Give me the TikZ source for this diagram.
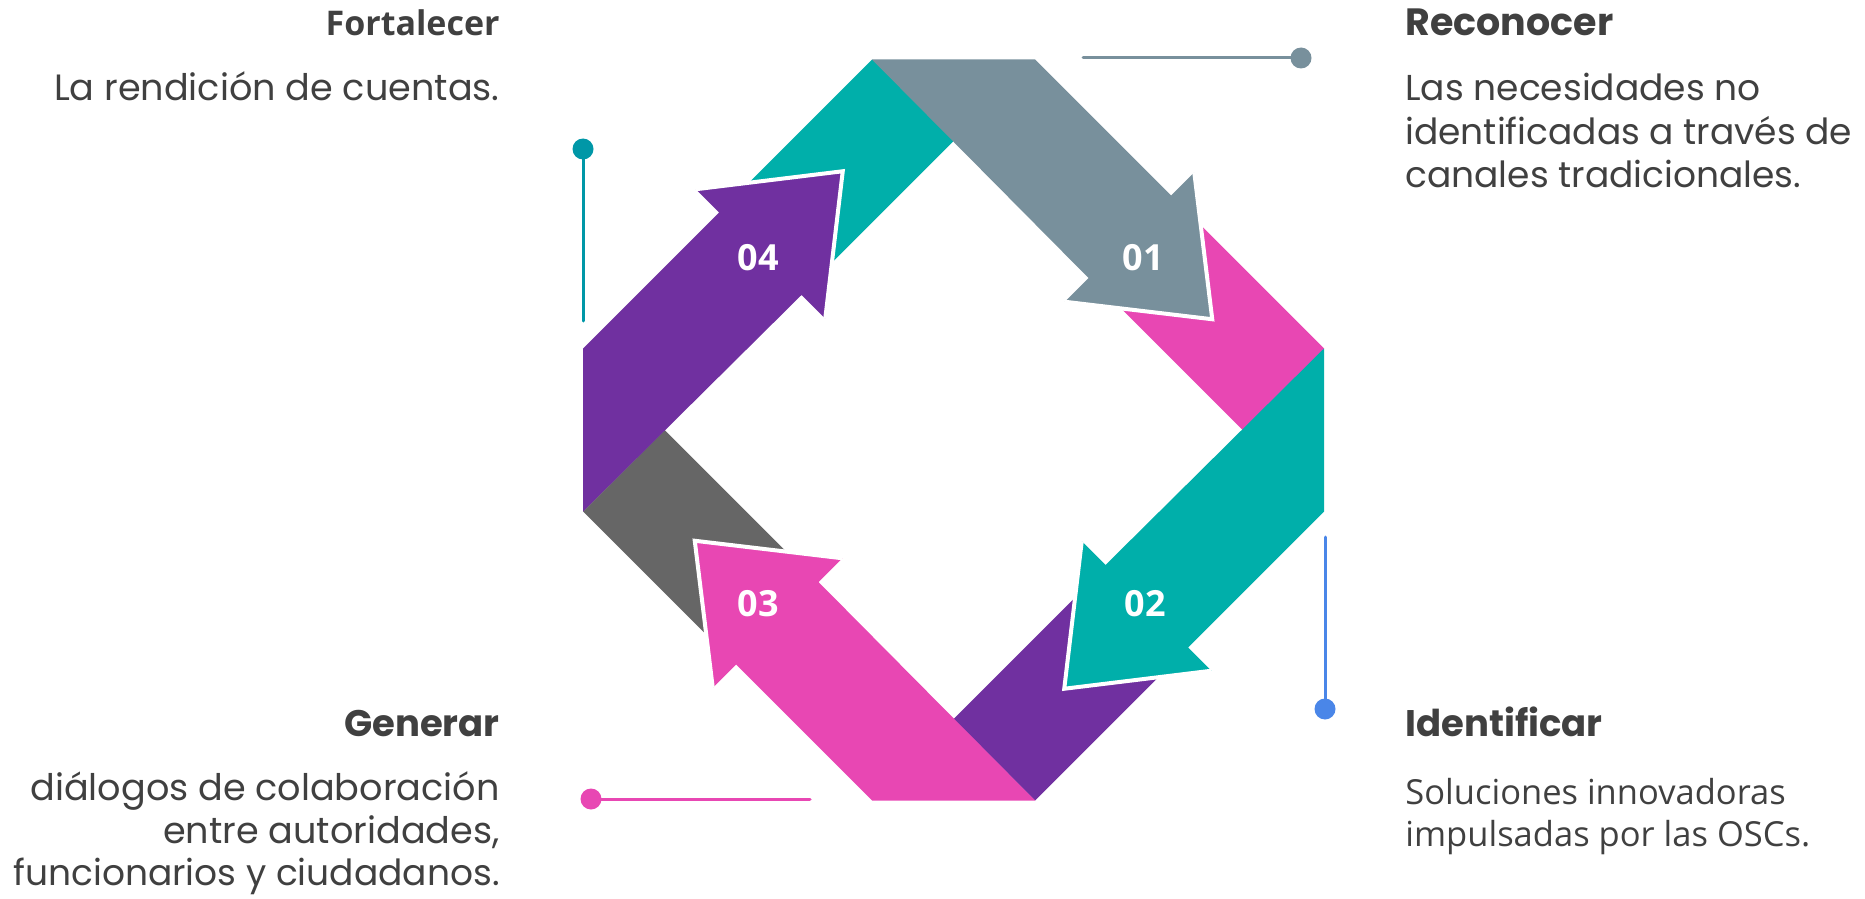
\documentclass[tikz,border=0pt]{standalone}
\usepackage{fontspec}
\setmainfont{Poppins}
\newfontfamily\popp{Poppins}
\newfontfamily\osans{Open Sans}
\definecolor{slate}{HTML}{78909C}
\definecolor{tealc}{HTML}{00AFAA}
\definecolor{pinkc}{HTML}{E847B3}
\definecolor{purp}{HTML}{7030A0}
\definecolor{dgray}{HTML}{666666}
\definecolor{tealdot}{HTML}{0097A7}
\definecolor{bluec}{HTML}{4A86E8}
\definecolor{txt}{HTML}{404040}
\begin{document}
\begin{tikzpicture}[x=0.5pt,y=-0.5pt,
  headwhite/.style={draw=white,line width=2pt,line join=miter},
  numlbl/.style={text=white,font=\osans\bfseries\fontsize{18pt}{20pt}\selectfont,inner sep=0pt},
  headg/.style={text=txt,font=\popp\bfseries\fontsize{19pt}{22pt}\selectfont,inner sep=0pt},
  headgs/.style={text=txt,font=\popp\bfseries\fontsize{18.5pt}{22pt}\selectfont,inner sep=0pt},
  heads/.style={text=txt,font=\osans\bfseries\fontsize{17pt}{20pt}\selectfont,inner sep=0pt},
  bodyg/.style={text=txt,font=\popp\fontsize{18pt}{22pt}\selectfont,inner sep=0pt},
  bodygl/.style={text=txt,font=\popp\fontsize{18.3pt}{22pt}\selectfont,inner sep=0pt},
  bodys/.style={text=txt,font=\osans\fontsize{17.25pt}{21pt}\selectfont,inner sep=0pt},
  leader/.style={line width=1.5pt,line cap=round}]
\useasboundingbox (0,0) rectangle (1865,899);
% corner pieces
\foreach \ang/\col in {0/pinkc,-90/purp,-180/dgray,-270/tealc}{
  \begin{scope}[shift={(953.5,430)},rotate=\ang]
    \fill[\col] (218.5,-233.5) -- (370.5,-81.5) -- (289,0) -- (137,-152) -- cycle;
  \end{scope}
}
% arrows
\foreach \ang/\col in {0/slate,-90/tealc,-180/pinkc,-270/purp}{
  \begin{scope}[shift={(953.5,430)},rotate=\ang]
    \fill[\col] (-81.5,-370.5) -- (81.5,-370.5) -- (217.5,-234.5) -- (240.75,-257.75)
      -- (258.75,-110.75) -- (111.25,-128.25) -- (135,-152) -- cycle;
    \draw[headwhite] (240.75,-257.75) -- (258.75,-110.75) -- (111.25,-128.25);
  \end{scope}
}
% numbers
\node[numlbl] (n1) at (1143.5,258) {01};
\node[numlbl] (n2) at (1145,604) {02};
\node[numlbl] (n3) at (758,604) {03};
\node[numlbl] (n4) at (758,258) {04};
% leader lines
\coordinate (a1) at (1083,58);  \coordinate (d1) at (1301,58);
\coordinate (a2) at (1325,537); \coordinate (d2) at (1325,709);
\coordinate (a3) at (810,799);  \coordinate (d3) at (591,799);
\coordinate (a4) at (583,321);  \coordinate (d4) at (583,149);
\draw[leader,slate] (a1) -- (d1); \fill[slate] (d1) circle (10.5);
\draw[leader,bluec] (a2) -- (d2); \fill[bluec] (d2) circle (10.5);
\draw[leader,pinkc] (a3) -- (d3); \fill[pinkc] (d3) circle (10.5);
\draw[leader,tealdot] (a4) -- (d4); \fill[tealdot] (d4) circle (10.5);
% texts top-left
\node[heads,anchor=base east] (t4) at (500,36) {Fortalecer};
\node[bodygl,anchor=base east] (t4a) at (500,101) {La rendición de cuentas.};
% top-right
\node[headg,anchor=base west] (t1) at (1405,36) {Reconocer};
\node[bodyg,anchor=base west] (t1a) at (1405,101) {Las necesidades no};
\node[bodyg,anchor=base west] (t1b) at (1405,144.5) {identificadas a través de};
\node[bodyg,anchor=base west] (t1c) at (1405,188) {canales tradicionales.};
% bottom-left
\node[headgs,anchor=base east] (t3) at (500,736) {Generar};
\node[bodygl,anchor=base east] (t3a) at (500,800) {diálogos de colaboración};
\node[bodygl,anchor=base east] (t3b) at (500,843) {entre autoridades,};
\node[bodyg,anchor=base east] (t3c) at (500,885) {funcionarios y ciudadanos.};
% bottom-right
\node[headgs,anchor=base west] (t2) at (1405,736) {Identificar};
\node[bodys,anchor=base west] (t2a) at (1405,804) {Soluciones innovadoras};
\node[bodys,anchor=base west] (t2b) at (1405,846) {impulsadas por las OSCs.};
\end{tikzpicture}
\end{document}
